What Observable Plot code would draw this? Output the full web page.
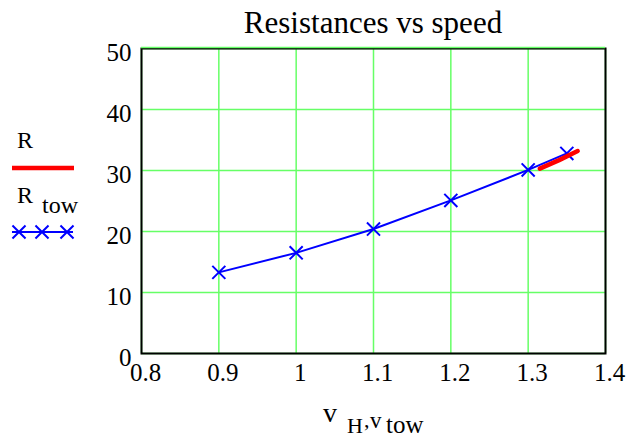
<!DOCTYPE html>
<html>
<head>
<meta charset="utf-8">
<script src="https://cdn.jsdelivr.net/npm/d3@7"></script>
<script src="https://cdn.jsdelivr.net/npm/@observablehq/plot@0.6"></script>
<style>
  html, body { margin: 0; padding: 0; background: white; }
</style>
</head>
<body>
<div id="chart"></div>
<script>
// Towing tank measurements: resistance at each tow speed
const towSpeeds = [0.9, 1.0, 1.1, 1.2, 1.3, 1.35];
const towResistance = [13.3, 16.5, 20.4, 25.1, 30.1, 32.8];

// Predicted resistance curve R(v_H) over the design speed range
const modelSpeeds = [1.315, 1.34, 1.364];
const modelResistance = [30.3, 31.7, 33.2];

// Axis ticks
const xTicks = [0.8, 0.9, 1.0, 1.1, 1.2, 1.3, 1.4];
const yTicks = [0, 10, 20, 30, 40, 50];

// Series styling
const seriesNames = ["R", "R_tow"];
const seriesColors = ["#ff0000", "#0000ff"];

const tow = towSpeeds.map((v, i) => ({v, r: towResistance[i]}));
const model = modelSpeeds.map((v, i) => ({v, r: modelResistance[i]}));

const gridStyle = {stroke: "#66ff66", strokeOpacity: 1, strokeWidth: 1.5};

const chart = Plot.plot({
  width: 627,
  height: 439,
  marginLeft: 141,
  marginRight: 22,
  marginTop: 48,
  marginBottom: 86,
  style: {fontFamily: "'Liberation Serif', 'Times New Roman', serif", fontSize: "25px", background: "white", color: "black"},
  x: {domain: [0.8, 1.4]},
  y: {domain: [0, 50]},
  marks: [
    Plot.gridX(xTicks, gridStyle),
    Plot.gridY(yTicks, gridStyle),
    Plot.frame({stroke: "black", strokeWidth: 2}),
    Plot.gridY([50], {...gridStyle, dy: -1}),
    Plot.axisX(xTicks, {tickSize: 0, tickPadding: 10, dx: 4, fontSize: 25, label: null, tickFormat: d => String(d)}),
    Plot.axisY(yTicks, {tickSize: 0, tickPadding: 10, dy: 4, fontSize: 25, label: null, tickFormat: d => String(d)}),
    Plot.line(tow, {x: "v", y: "r", stroke: seriesColors[1], strokeWidth: 2}),
    Plot.dot(tow, {x: "v", y: "r", symbol: "times", r: 6, stroke: seriesColors[1], strokeWidth: 2}),
    Plot.line(model, {x: "v", y: "r", stroke: seriesColors[0], strokeWidth: 4.5})
  ]
});

document.getElementById("chart").appendChild(chart);

const svg = d3.select(chart);
const serif = "'Liberation Serif', 'Times New Roman', serif";

// Title
svg.append("text")
  .attr("x", 373).attr("y", 33)
  .attr("text-anchor", "middle")
  .attr("font-family", serif).attr("font-size", 31)
  .attr("fill", "black")
  .text("Resistances vs speed");

// X axis label: v_H, v_tow
const xl = svg.append("g").attr("font-family", serif).attr("fill", "black").attr("text-anchor", "start");
xl.append("text").attr("x", 323).attr("y", 422).attr("font-size", 28).text("v");
xl.append("text").attr("x", 347).attr("y", 433).attr("font-size", 22).text("H");
xl.append("text").attr("x", 364).attr("y", 427).attr("font-size", 22).text(",");
xl.append("text").attr("x", 370).attr("y", 428).attr("font-size", 23).text("v");
xl.append("text").attr("x", 386).attr("y", 433).attr("font-size", 25).text("tow");

// Legend
const lg = svg.append("g").attr("font-family", serif).attr("fill", "black").attr("text-anchor", "start");
lg.append("text").attr("x", 17).attr("y", 148).attr("font-size", 24).text(seriesNames[0]);
lg.append("line")
  .attr("x1", 12).attr("x2", 74).attr("y1", 168).attr("y2", 168)
  .attr("stroke", seriesColors[0]).attr("stroke-width", 4.5);
const rt = lg.append("text").attr("x", 17).attr("y", 203).attr("font-size", 24);
rt.append("tspan").text(seriesNames[1].split("_")[0]);
rt.append("tspan").attr("x", 42).attr("y", 213).text(seriesNames[1].split("_")[1]);
lg.append("line")
  .attr("x1", 12).attr("x2", 73).attr("y1", 232).attr("y2", 232)
  .attr("stroke", seriesColors[1]).attr("stroke-width", 2);
const times = d3.symbol(d3.symbolTimes, Math.PI * 36)();
[19, 42, 67].forEach(x => {
  lg.append("path")
    .attr("d", times)
    .attr("transform", `translate(${x},232)`)
    .attr("fill", "none")
    .attr("stroke", seriesColors[1]).attr("stroke-width", 2);
});
</script>
</body>
</html>
